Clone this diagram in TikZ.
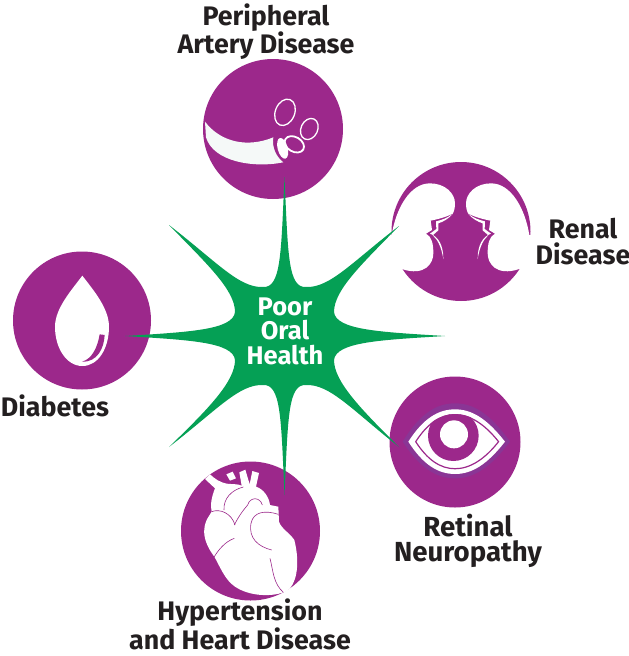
\documentclass[tikz,border=0pt]{standalone}
\usepackage{fontspec}
\setmainfont{Fira Sans}
\definecolor{plum}{HTML}{9C288B}
\definecolor{leaf}{HTML}{05A055}
\definecolor{halo}{HTML}{8A3595}
\definecolor{ink}{HTML}{231F20}
\definecolor{icon}{HTML}{F5F9F8}
\tikzset{
  disc/.style={circle,fill=plum,inner sep=0pt,draw=none},
  lbl/.style={align=center,text=ink,inner sep=0pt,font=\fontsize{26.8}{26}\selectfont\bfseries},
  hub/.style={align=center,text=white,inner sep=0pt,font=\fontsize{25.5}{24.5}\selectfont\bfseries},
  icn/.style={shift={#1},scale=0.33333},
  ring/.style={draw=white,line width=1.3pt,fill=none},
  thin purple/.style={draw=plum,line width=0.6pt,fill=none}
}
\begin{document}
\begin{tikzpicture}[x=1pt,y=-1pt]
\useasboundingbox (0,0) rectangle (629,656);
\node[disc,minimum size=140pt] (artery) at (273,129) {};
\node[disc,minimum size=139pt] (renal) at (461,231.5) {};
\node[disc,minimum size=131pt] (eye) at (455,442) {};
\node[disc,minimum size=139pt] (heart) at (250.5,531) {};
\node[disc,minimum size=138pt] (diab) at (82,320.5) {};
% artery
\begin{scope}[icn={(190,50)}]
\fill[icon] (45,215) .. controls (90,275) and (170,295) .. (250,262)
  .. controls (245,290) and (258,320) .. (280,337)
  .. controls (190,355) and (70,335) .. (48,262) -- cycle;
\fill[white,shift={(278,295)},rotate=15] (0,0) ellipse[x radius=15,y radius=32];
\draw[ring,shift={(285,187)},rotate=-22] (0,0) ellipse[x radius=29,y radius=41];
\draw[ring,shift={(358,237)},rotate=-25] (0,0) ellipse[x radius=25,y radius=33];
\draw[ring,line width=1.8pt,shift={(313,283)},rotate=-30] (0,0) ellipse[x radius=31,y radius=22];
\end{scope}
% kidneys
\begin{scope}[icn={(380,155)}]
\foreach \m/\a in {1/0,-1/483}{
\begin{scope}[shift={(\a,0)},xscale=\m]
\fill[white] (35,240) .. controls (48,160) and (90,85) .. (150,85)
  .. controls (195,85) and (225,115) .. (225,145) .. controls (225,160) and (222,170) .. (218,176)
  .. controls (195,188) and (170,193) .. (152,197) -- (156,225) -- (138,236)
  .. controls (155,245) and (160,265) .. (160,295) .. controls (160,325) and (135,365) .. (65,342)
  -- (-10,342) -- (-10,240) -- cycle;
\fill[white] (218,177) .. controls (200,190) and (185,195) .. (168,199) -- (169,222) -- (150,236)
  .. controls (175,245) and (190,270) .. (190,312) .. controls (184,275) and (172,252) .. (158,241)
  -- (175,226) -- (175,205) .. controls (190,200) and (205,192) .. (218,177) -- cycle;
\end{scope}}
\end{scope}
% eye
\begin{scope}[icn={(380,370)}]
\fill[halo] (68,215) .. controls (120,130) and (170,100) .. (225,100)
  .. controls (280,100) and (330,130) .. (390,215) .. controls (330,295) and (280,325) .. (225,325)
  .. controls (170,325) and (120,295) .. (68,215) -- cycle;
\fill[white] (85,215) .. controls (130,145) and (175,118) .. (225,118)
  .. controls (275,118) and (320,145) .. (375,215) .. controls (320,285) and (275,312) .. (225,312)
  .. controls (175,312) and (130,285) .. (85,215) -- cycle;
\path[clip] (105,215) .. controls (140,160) and (180,132) .. (225,132)
  .. controls (270,132) and (315,160) .. (358,215) .. controls (315,270) and (270,298) .. (225,298)
  .. controls (180,298) and (140,270) .. (105,215) -- cycle;
\draw[draw=plum,line width=2.4pt] (105,215) .. controls (140,160) and (180,132) .. (225,132)
  .. controls (270,132) and (315,160) .. (358,215) .. controls (315,270) and (270,298) .. (225,298)
  .. controls (180,298) and (140,270) .. (105,215) -- cycle;
\fill[plum] (220,197) circle[radius=76];
\fill[white] (222,193) circle[radius=42];
\end{scope}
% heart
\begin{scope}[icn={(175,455)}]
\fill[white] (90,72) -- (105,58) .. controls (120,72) and (135,82) .. (155,86)
  .. controls (170,88) and (188,86) .. (200,92) -- (193,52) -- (211,44) -- (224,88)
  -- (232,48) -- (252,54) -- (243,95) .. controls (265,102) and (282,125) .. (285,150)
  -- (310,155) -- (312,200) .. controls (318,220) and (345,235) .. (358,255)
  .. controls (372,310) and (370,370) .. (345,400) .. controls (335,410) and (330,412) .. (325,412)
  .. controls (290,425) and (225,425) .. (180,395)
  .. controls (150,375) and (135,335) .. (118,305)
  .. controls (95,275) and (85,245) .. (88,222) .. controls (90,195) and (105,180) .. (110,170)
  .. controls (105,150) and (110,125) .. (120,100) -- cycle;
\fill[white] (154,58) -- (173,50) -- (183,70) -- (165,77) -- cycle;
\draw[thin purple] (110,170) .. controls (135,160) and (170,175) .. (180,210);
\draw[thin purple] (147,165) .. controls (145,130) and (170,105) .. (205,96);
\draw[thin purple] (118,305) .. controls (130,285) and (150,260) .. (178,250);
\draw[thin purple] (178,210) .. controls (190,185) and (205,165) .. (218,150)
  .. controls (225,125) and (255,125) .. (262,150);
\draw[thin purple] (310,178) .. controls (270,165) and (235,170) .. (228,205)
  .. controls (220,250) and (250,275) .. (290,285);
\draw[thin purple] (285,310) .. controls (295,350) and (295,385) .. (325,412);
\end{scope}
% drop
\begin{scope}[icn={(10,245)}]
\fill[white] (217,92) .. controls (250,135) and (297,190) .. (297,245)
  .. controls (297,310) and (265,363) .. (217,363) .. controls (170,363) and (135,310) .. (135,245)
  .. controls (135,190) and (185,135) .. (217,92) -- cycle;
\fill[plum] (269,268) -- (284,270) .. controls (282,310) and (262,352) .. (216,350)
  .. controls (245,342) and (262,310) .. (269,268) -- cycle;
\end{scope}
% star
\path[fill=leaf] (284.5,177)
  .. controls (288,255) and (288,288) .. (306,287) .. controls (330,288) and (352,262) .. (399,226)
  .. controls (362,264) and (334,290) .. (334,312) .. controls (336,330) and (380,332) .. (445,336)
  .. controls (380,340) and (336,342) .. (334,360) .. controls (334,382) and (362,410) .. (399,447)
  .. controls (352,410) and (330,384) .. (306,385) .. controls (288,384) and (288,417) .. (284.5,495)
  .. controls (281,417) and (281,384) .. (263,385) .. controls (239,384) and (217,410) .. (169,447)
  .. controls (207,410) and (235,382) .. (235,360) .. controls (233,342) and (189,340) .. (125,336)
  .. controls (189,332) and (233,330) .. (235,312) .. controls (235,290) and (207,264) .. (169,225)
  .. controls (217,262) and (239,288) .. (263,287) .. controls (281,288) and (281,255) .. (284.5,177) -- cycle;
\node[hub] (hubtext) at (285,331) {Poor\\Oral\\Health};
\node[lbl] (t1) at (266,31.5) {Peripheral\\[-1pt]Artery Disease};
\node[lbl] (t2) at (583,242) {Renal\\Disease};
\node[lbl] (t3) at (55,406) {Diabetes};
\node[lbl,font=\fontsize{27.6}{26}\selectfont\bfseries] (t4) at (468,541) {Retinal\\[-0.5pt]Neuropathy};
\node[lbl] (t5) at (240,624.5) {Hypertension\\[1pt]and Heart Disease};
\end{tikzpicture}
\end{document}
